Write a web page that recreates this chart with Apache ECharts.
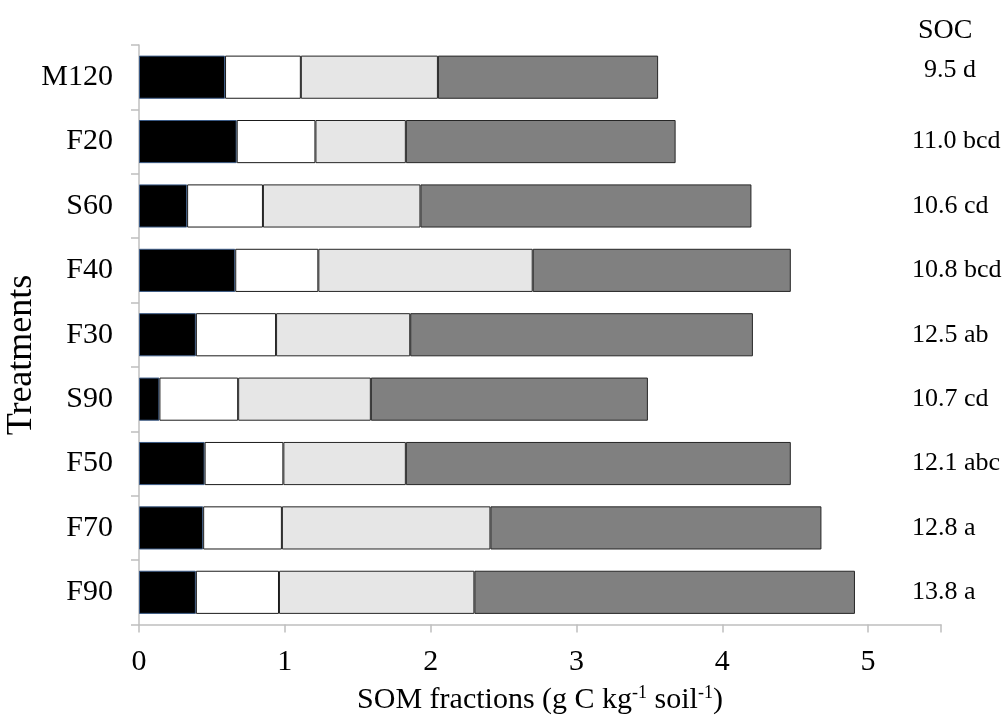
<!DOCTYPE html>
<html>
<head>
<meta charset="utf-8">
<script src="https://cdn.jsdelivr.net/npm/echarts@6/dist/echarts.min.js"></script>
<style>
html,body{margin:0;padding:0;background:#fff;}
#chart{width:1005px;height:720px;}
</style>
</head>
<body>
<div id="chart"></div>
<script>
// Treatments, top to bottom
var categories = ['M120', 'F20', 'S60', 'F40', 'F30', 'S90', 'F50', 'F70', 'F90'];
// SOM fractions (g C kg-1 soil-1), four stacked fractions
var fraction1 = [0.59, 0.67, 0.33, 0.66, 0.39, 0.14, 0.45, 0.44, 0.39];   // black
var fraction2 = [0.52, 0.54, 0.52, 0.57, 0.55, 0.54, 0.54, 0.54, 0.57];   // white
var fraction3 = [0.94, 0.62, 1.08, 1.47, 0.92, 0.91, 0.84, 1.43, 1.34];   // light grey
var fraction4 = [1.51, 1.85, 2.27, 1.77, 2.35, 1.90, 2.64, 2.27, 2.61];   // dark grey
// SOC values with significance letters
var socLabels = ['9.5 d', '11.0 bcd', '10.6 cd', '10.8 bcd', '12.5 ab', '10.7 cd', '12.1 abc', '12.8 a', '13.8 a'];
var xTicks = [0, 1, 2, 3, 4, 5];

var serif = '"Liberation Serif", "Times New Roman", serif';
var chart = echarts.init(document.getElementById('chart'), null, {renderer: 'canvas'});

function seg(name, data, color, border) {
  return {
    name: name, type: 'bar', stack: 'som', data: data,
    barWidth: '67%',
    itemStyle: {color: color, borderColor: border, borderWidth: 1},
    emphasis: {disabled: true}
  };
}

chart.setOption({
  animation: false,
  backgroundColor: '#ffffff',
  textStyle: {fontFamily: serif},
  grid: {left: 139, right: 64, top: 45, bottom: 88, containLabel: false},
  xAxis: {
    type: 'value', min: 0, max: 5.5, interval: 1,
    axisLine: {show: true, lineStyle: {color: '#bfbfbf', width: 1.5}},
    axisTick: {show: true, length: 8, lineStyle: {color: '#bfbfbf', width: 1.5}},
    splitLine: {show: false},
    axisLabel: {
      color: '#000', fontSize: 30, fontFamily: serif, margin: 23,
      formatter: function (v) { return xTicks.indexOf(v) >= 0 ? String(v) : ''; }
    },
    name: 'SOM fractions (g C kg{sup|-1} soil{sup|-1})',
    nameLocation: 'middle', nameGap: 60,
    nameTextStyle: {
      color: '#000', fontSize: 30, fontFamily: serif,
      rich: {sup: {fontSize: 18, fontFamily: serif, color: '#000', verticalAlign: 'top', padding: [0, 0, 13, 0]}}
    }
  },
  yAxis: [{
    type: 'category', data: categories, inverse: true,
    axisLine: {show: true, lineStyle: {color: '#bfbfbf', width: 1.5}},
    axisTick: {show: true, length: 8, lineStyle: {color: '#bfbfbf', width: 1.5}},
    axisLabel: {color: '#000', fontSize: 30, fontFamily: serif, margin: 26},
    splitLine: {show: false}
  }, {
    type: 'category', data: socLabels, inverse: true,
    position: 'right', offset: -29,
    axisLine: {show: false}, axisTick: {show: false}, splitLine: {show: false},
    axisLabel: {
      color: '#000', fontSize: 26, fontFamily: serif, margin: 0, align: 'left',
      formatter: function (v) { return parseFloat(v) < 10 ? '{s|' + v + '}' : v; },
      rich: {s: {fontSize: 26, fontFamily: serif, color: '#000', padding: [0, 0, 14, 12]}}
    },
    name: 'SOC', nameLocation: 'start', nameGap: 0,
    nameTextStyle: {color: '#000', fontSize: 28, fontFamily: serif, align: 'left', padding: [0, 0, 0, 6]}
  }],
  graphic: [{
    type: 'text', x: 22, y: 355, rotation: Math.PI / 2,
    style: {text: 'Treatments', fontSize: 36, fontFamily: serif, fill: '#000',
            textAlign: 'center', textVerticalAlign: 'middle'}
  }],
  series: [
    seg('Fraction 1', fraction1, '#000000', '#3b5a85'),
    seg('Fraction 2', fraction2, '#ffffff', '#1a1a1a'),
    seg('Fraction 3', fraction3, '#e6e6e6', '#262626'),
    seg('Fraction 4', fraction4, '#808080', '#262626')
  ]
});
</script>
</body>
</html>
